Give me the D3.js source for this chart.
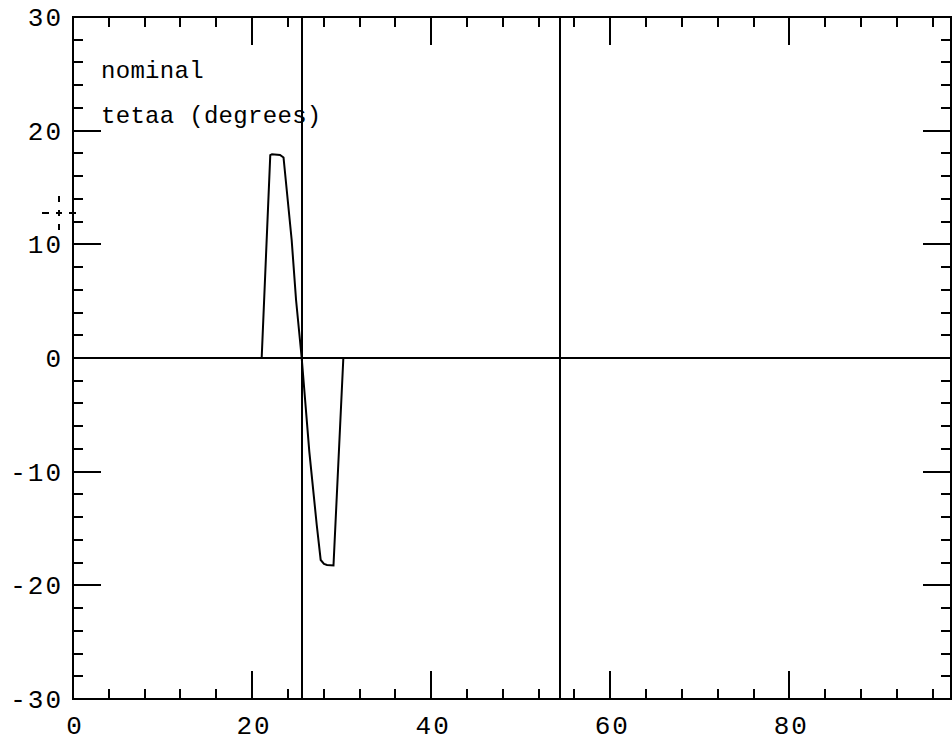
<!DOCTYPE html>
<html>
<head>
<meta charset="utf-8">
<script src="https://cdn.jsdelivr.net/npm/d3@7"></script>
<style>
  html, body { margin: 0; padding: 0; background: #fff; }
  svg { display: block; }
  text { font-family: "Liberation Mono", "DejaVu Sans Mono", monospace; fill: #000; }
</style>
</head>
<body>
<script>
// Response curve: tetaa (degrees) against time
const tValues   = [21.07, 22.03, 22.22, 23.12, 23.51, 24.42, 24.91, 25.54, 26.39, 27.22, 27.66, 28.03, 28.37, 29.09, 30.19];
const tetaa     = [0, 17.85, 17.92, 17.86, 17.64, 10.38, 5.10, 0, -8.24, -14.69, -17.77, -18.12, -18.21, -18.25, 0];

// Vertical marker lines (x positions) and cursor location
const markerX   = [25.54, 54.35];
const cursorPt  = [-1.6, 12.8];

// Axis ticks
const xMajor    = [20, 40, 60, 80];
const xMinor    = [4, 8, 12, 16, 24, 28, 32, 36, 44, 48, 52, 56, 64, 68, 72, 76, 84, 88, 92, 96];
const xLabels   = [0, 20, 40, 60, 80];
const yMajor    = [-20, -10, 10, 20];
const yMinor    = [-28, -26, -24, -22, -18, -16, -14, -12, -8, -6, -4, -2, 2, 4, 6, 8, 12, 14, 16, 18, 22, 24, 26, 28];
const yLabels   = [-30, -20, -10, 0, 10, 20, 30];

const legendLines = ["nominal", "tetaa (degrees)"];

const W = 952, H = 742;
const L = 73, R = 951, T = 17, B = 699;

const x = d3.scaleLinear().domain([0, 98.05]).range([L, R]);
const y = d3.scaleLinear().domain([-30, 30]).range([B, T]);

const svg = d3.select("body").append("svg").attr("width", W).attr("height", H);

const g = svg.append("g").attr("stroke", "#000").attr("stroke-width", 2)
  .attr("shape-rendering", "crispEdges");

// Frame
g.append("rect").attr("x", L).attr("y", T).attr("width", R - L).attr("height", B - T).attr("fill", "none");

// Zero line
g.append("line").attr("x1", L).attr("x2", R).attr("y1", y(0)).attr("y2", y(0));

// Vertical marker lines
g.selectAll(".vm").data(markerX).join("line")
  .attr("x1", d => x(d)).attr("x2", d => x(d)).attr("y1", T).attr("y2", B);

const minorLen = 10, majorLen = 28;

// Bottom and top ticks
[[xMinor, minorLen], [xMajor, majorLen]].forEach(([vals, len]) => {
  g.selectAll(null).data(vals).join("line")
    .attr("x1", d => x(d)).attr("x2", d => x(d)).attr("y1", B).attr("y2", B - len);
  g.selectAll(null).data(vals).join("line")
    .attr("x1", d => x(d)).attr("x2", d => x(d)).attr("y1", T).attr("y2", T + len);
});

// Left and right ticks
[[yMinor, minorLen], [yMajor, majorLen]].forEach(([vals, len]) => {
  g.selectAll(null).data(vals).join("line")
    .attr("y1", d => y(d)).attr("y2", d => y(d)).attr("x1", L).attr("x2", L + len);
  g.selectAll(null).data(vals).join("line")
    .attr("y1", d => y(d)).attr("y2", d => y(d)).attr("x1", R).attr("x2", R - len);
});

// Curve
const line = d3.line().x((d, i) => x(tValues[i])).y(d => y(d));
svg.append("path").datum(tetaa)
  .attr("d", line)
  .attr("fill", "none")
  .attr("stroke", "#000")
  .attr("stroke-width", 2)
  .attr("stroke-linejoin", "miter");

// Tick labels
svg.selectAll(".xl").data(xLabels).join("text")
  .attr("x", d => x(d) + 2)
  .attr("y", 734)
  .attr("text-anchor", "middle")
  .attr("font-size", 26)
  .attr("letter-spacing", 2)
  .text(d => d);

svg.selectAll(".yl").data(yLabels).join("text")
  .attr("x", 63)
  .attr("y", d => y(d) + 9)
  .attr("text-anchor", "end")
  .attr("font-size", 26)
  .attr("letter-spacing", 2)
  .text(d => d);

// Legend text
svg.selectAll(".lg").data(legendLines).join("text")
  .attr("x", 101)
  .attr("y", (d, i) => 78 + i * 45)
  .attr("font-size", 24)
  .attr("letter-spacing", 0.3)
  .text(d => d);

// Cursor crosshair
const cx = x(cursorPt[0]), cy = y(cursorPt[1]);
const cur = svg.append("g").attr("stroke", "#000").attr("stroke-width", 2).attr("shape-rendering", "crispEdges");
cur.append("line").attr("x1", cx - 3).attr("x2", cx + 3).attr("y1", cy).attr("y2", cy);
cur.append("line").attr("x1", cx).attr("x2", cx).attr("y1", cy - 3).attr("y2", cy + 3);
cur.append("line").attr("x1", cx - 17).attr("x2", cx - 10).attr("y1", cy).attr("y2", cy);
cur.append("line").attr("x1", cx + 10).attr("x2", cx + 17).attr("y1", cy).attr("y2", cy);
cur.append("line").attr("x1", cx).attr("x2", cx).attr("y1", cy - 17).attr("y2", cy - 11);
cur.append("line").attr("x1", cx).attr("x2", cx).attr("y1", cy + 11).attr("y2", cy + 17);
</script>
</body>
</html>
